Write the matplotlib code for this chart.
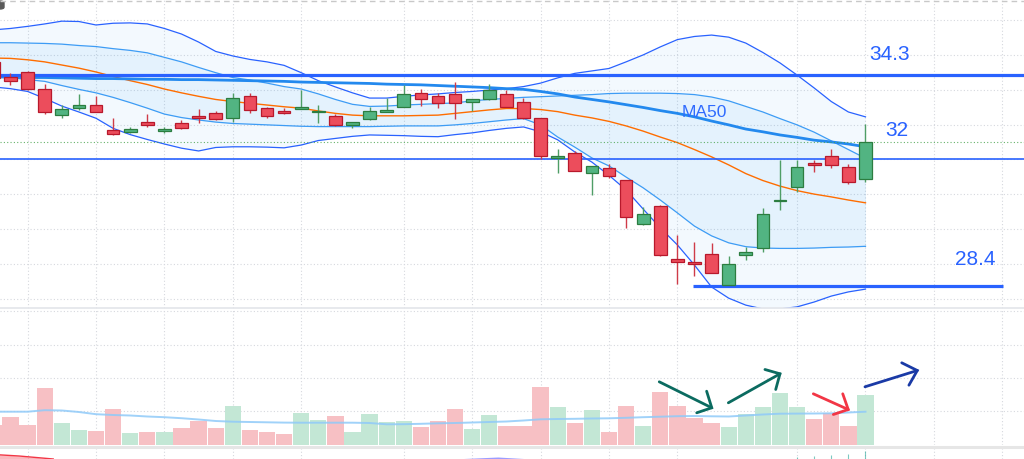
import numpy as np
import matplotlib.pyplot as plt
from matplotlib.lines import Line2D
from matplotlib.patches import FancyBboxPatch

# candle index (-1 is the half-cut candle at the left edge)
idx = np.arange(-1, 51)

opens = [34.80, 34.36, 34.52, 34.03, 33.27, 33.47, 33.56, 32.83, 32.79, 33.08,
         32.82, 33.05, 33.24, 33.33, 33.20, 33.82, 33.47, 33.39, 33.45, 33.36,
         33.24, 32.98, 33.15, 33.37, 33.51, 33.90, 33.81, 33.87, 33.64, 33.72,
         33.87, 33.66, 33.18, 32.05, 32.18, 31.61, 31.74, 31.40, 30.13, 30.66,
         29.13, 29.04, 29.27, 28.39, 29.24, 29.46, 30.79, 31.20, 31.89, 32.09,
         31.77, 31.44]
highs = [34.82, 34.47, 34.54, 34.16, 33.56, 33.87, 33.82, 33.18, 32.94, 33.29,
         32.94, 33.12, 33.44, 33.39, 33.91, 33.91, 33.51, 33.47, 33.99, 33.56,
         33.29, 33.07, 33.51, 33.75, 34.14, 34.01, 33.91, 34.21, 33.74, 34.16,
         33.99, 33.77, 33.19, 32.29, 32.24, 31.81, 31.86, 31.41, 30.64, 30.69,
         29.82, 29.61, 29.60, 29.22, 29.49, 30.61, 31.98, 31.98, 31.98, 32.29,
         31.86, 33.01]
lows = [34.31, 34.14, 34.00, 33.29, 33.18, 33.42, 33.36, 32.71, 32.75, 32.93,
        32.75, 32.88, 33.05, 33.14, 33.08, 33.34, 33.18, 33.29, 33.44, 33.03,
        32.97, 32.89, 33.14, 33.36, 33.50, 33.53, 33.48, 33.15, 33.39, 33.71,
        33.50, 33.17, 32.01, 31.60, 31.65, 30.97, 31.47, 30.03, 30.12, 29.22,
        28.41, 28.66, 28.72, 28.38, 29.11, 29.34, 30.54, 31.07, 31.64, 31.74,
        31.29, 31.36]
closes = [34.33, 34.26, 34.01, 33.35, 33.44, 33.56, 33.37, 32.74, 32.87, 32.98,
          32.85, 32.89, 33.18, 33.17, 33.77, 33.41, 33.24, 33.34, 33.48, 33.39,
          32.98, 33.06, 33.38, 33.43, 33.87, 33.72, 33.63, 33.63, 33.73, 34.00,
          33.51, 33.18, 32.09, 32.10, 31.66, 31.80, 31.52, 30.33, 30.43, 29.25,
          29.05, 28.98, 28.73, 28.99, 29.34, 30.43, 30.82, 31.77, 31.84, 31.84,
          31.35, 32.50]
volumes = [2.00, 2.80, 2.00, 5.73, 2.23, 1.53, 1.43, 3.63, 1.20, 1.27,
           1.33, 1.70, 2.43, 1.70, 3.90, 1.53, 1.30, 1.10, 3.23, 2.53,
           2.90, 1.33, 3.07, 2.30, 2.43, 1.77, 2.40, 3.63, 1.60, 2.97,
           1.87, 1.93, 5.80, 3.80, 2.23, 3.53, 1.27, 3.87, 1.93, 5.33,
           3.87, 2.67, 2.23, 1.77, 3.07, 3.80, 5.17, 3.80, 2.57, 3.17,
           1.93, 5.00]
vol_ma = [3.33, 3.33, 3.33, 3.48, 3.45, 3.30, 3.08, 3.00, 2.95, 2.85,
          2.78, 2.68, 2.55, 2.40, 2.33, 2.30, 2.27, 2.24, 2.23, 2.23,
          2.23, 2.23, 2.20, 2.07, 2.08, 2.12, 2.17, 2.20, 2.25, 2.30,
          2.35, 2.45, 2.57, 2.60, 2.62, 2.65, 2.67, 2.72, 2.78, 2.83,
          2.88, 2.90, 2.87, 2.85, 2.95, 3.05, 3.13, 3.14, 3.15, 3.17,
          3.25, 3.33]

# indicator lines
bb_upper = [35.72, 35.76, 35.82, 35.89, 35.97, 35.96, 35.86, 35.91, 35.92, 35.89,
            35.76, 35.60, 35.37, 35.10, 34.97, 34.87, 34.80, 34.70, 34.49, 34.26,
            34.08, 33.91, 33.76, 33.76, 33.81, 33.85, 33.88, 33.92, 33.95, 33.99,
            34.03, 34.09, 34.19, 34.34, 34.47, 34.54, 34.61, 34.80, 35.00, 35.23,
            35.44, 35.53, 35.57, 35.51, 35.34, 35.07, 34.77, 34.42, 34.05, 33.66,
            33.36, 33.22]
bb_lower = [34.08, 34.03, 33.95, 33.75, 33.53, 33.36, 33.18, 32.89, 32.71, 32.57,
            32.44, 32.32, 32.24, 32.34, 32.36, 32.36, 32.35, 32.33, 32.41, 32.54,
            32.60, 32.66, 32.70, 32.69, 32.68, 32.66, 32.65, 32.71, 32.76, 32.83,
            32.89, 32.93, 32.79, 32.56, 32.21, 31.92, 31.54, 31.12, 30.57, 30.03,
            29.54, 28.96, 28.33, 28.01, 27.81, 27.70, 27.70, 27.76, 27.90, 28.07,
            28.19, 28.27]
bb1_upper = [35.35, 35.35, 35.34, 35.33, 35.31, 35.27, 35.24, 35.18, 35.13, 35.06,
             34.93, 34.80, 34.64, 34.49, 34.35, 34.28, 34.19, 34.09, 34.02, 33.88,
             33.72, 33.58, 33.52, 33.53, 33.56, 33.58, 33.60, 33.62, 33.68, 33.72,
             33.75, 33.78, 33.80, 33.82, 33.84, 33.86, 33.89, 33.90, 33.90, 33.90,
             33.89, 33.86, 33.79, 33.68, 33.52, 33.36, 33.17, 32.99, 32.78, 32.53,
             32.28, 32.03]
bb1_lower = [34.39, 34.35, 34.29, 34.24, 34.12, 34.01, 33.91, 33.78, 33.63, 33.47,
             33.30, 33.20, 33.13, 33.07, 33.03, 33.01, 32.99, 32.97, 32.95, 32.94,
             32.94, 32.94, 32.94, 32.95, 32.96, 32.96, 32.96, 32.99, 33.03, 33.08,
             33.13, 33.17, 32.99, 32.64, 32.35, 32.04, 31.81, 31.49, 31.18, 30.83,
             30.46, 30.08, 29.80, 29.60, 29.49, 29.45, 29.44, 29.44, 29.45, 29.47,
             29.48, 29.50]
ma20 = [34.91, 34.90, 34.86, 34.80, 34.71, 34.62, 34.51, 34.38, 34.26, 34.15,
        34.02, 33.91, 33.81, 33.72, 33.66, 33.61, 33.56, 33.51, 33.47, 33.39,
        33.32, 33.27, 33.25, 33.25, 33.25, 33.26, 33.27, 33.32, 33.37, 33.42,
        33.46, 33.46, 33.43, 33.37, 33.27, 33.19, 33.09, 32.96, 32.81, 32.64,
        32.48, 32.28, 32.07, 31.84, 31.59, 31.39, 31.23, 31.10, 31.00, 30.92,
        30.83, 30.75]
ma50 = [34.37, 34.36, 34.35, 34.35, 34.34, 34.33, 34.32, 34.32, 34.31, 34.30,
        34.30, 34.29, 34.29, 34.28, 34.27, 34.26, 34.25, 34.24, 34.22, 34.21,
        34.20, 34.19, 34.18, 34.16, 34.15, 34.14, 34.12, 34.10, 34.08, 34.06,
        34.03, 34.01, 33.95, 33.88, 33.79, 33.72, 33.65, 33.57, 33.49, 33.40,
        33.32, 33.22, 33.10, 32.99, 32.87, 32.79, 32.70, 32.63, 32.55, 32.50,
        32.44, 32.36]

# drawn levels and their labels
levels = [34.42, 32.00, 28.37]
level_labels = ['34.3', '32', '28.4']
level_from = [-1.0, -1.0, 39.9]
level_to = [61.0, 61.0, 58.05]
label_pos = [(51.43, 35.00), (51.81, 32.84), (56.40, 29.12)]

# hand drawn arrows on the volume pane: shaft start, tip, two head ends
arrows = [
    ((37.94, 6.32), (41.01, 3.72), (40.13, 3.22), (40.71, 5.38), '#0b6b60'),
    ((41.98, 4.22), (45.00, 7.12), (44.12, 7.55), (44.75, 5.55), '#0b6b60'),
    ((46.95, 5.12), (48.99, 3.55), (48.67, 5.12), (48.12, 3.05), '#f23645'),
    ((49.97, 5.82), (53.03, 7.45), (52.12, 8.22), (52.54, 5.98), '#1a3aa6'),
]

# lower oscillator pane (only a few marks visible)
osc_idx = [46, 47, 48, 49, 50]
osc_vals = [2.0, 3.0, 4.5, 5.0, 8.5]

grid_x = [1, 5, 9, 13, 17, 23, 27, 31, 35, 39, 46, 50, 54, 58]
grid_price = [28, 29, 30, 31, 32, 33, 34, 35, 36]
grid_vol = [3.37, 6.70, 10.03, 13.36]

RED, RED_EDGE, RED_WICK = '#ec4d5c', '#b8192c', '#cf3b48'
GRN, GRN_EDGE, GRN_WICK = '#52b482', '#2c7d40', '#4f9e66'
BLUE = '#2962ff'

xmin, xmax = -0.614, 59.27
W, H = 1024, 459

fig = plt.figure(figsize=(W / 100, H / 100), dpi=100)
ax = fig.add_axes([0, (H - 307.5) / H, 1, 307.5 / H])
axv = fig.add_axes([0, (H - 445) / H, 1, 137.5 / H])
axo = fig.add_axes([0, 0, 1, 11.5 / H])

for a in (ax, axv, axo):
    a.set_xlim(xmin, xmax)
    a.set_axis_off()
    for gx in grid_x:
        a.axvline(gx, color='#d6d8de', lw=0.8, ls=(0, (1, 2)), zorder=0)

ax.set_ylim(36.578 - 307.5 / 34.8, 36.578)
axv.set_ylim(0, 13.75)
axo.set_ylim(0, 11.5)

for gy in grid_price:
    ax.axhline(gy, color='#d6d8de', lw=0.8, ls=(0, (1, 2)), zorder=0)
for gy in grid_vol:
    axv.axhline(gy, color='#d6d8de', lw=0.8, ls=(0, (1, 2)), zorder=0)

# bands
ax.fill_between(idx, bb_lower, bb_upper, color='#2196f3', alpha=0.05, lw=0, zorder=1)
ax.fill_between(idx, bb1_lower, bb1_upper, color='#2196f3', alpha=0.07, lw=0, zorder=1)
ax.plot(idx, bb_upper, color=BLUE, lw=0.9, zorder=2)
ax.plot(idx, bb_lower, color=BLUE, lw=0.9, zorder=2)
ax.plot(idx, bb1_upper, color='#3d9cf5', lw=0.9, zorder=2)
ax.plot(idx, bb1_lower, color='#3d9cf5', lw=0.9, zorder=2)
ax.plot(idx, ma20, color='#ff6d00', lw=1.0, zorder=2)
ax.plot(idx, ma50, color='#2389ee', lw=2.0, zorder=2)

# levels
for lv, x0, x1 in zip(levels, level_from, level_to):
    ax.hlines(lv, x0, x1, color=BLUE, lw=2.3 if lv != 32.0 else 1.2, zorder=3)
for txt, (tx, ty) in zip(level_labels, label_pos):
    ax.text(tx, ty, txt, color=BLUE, fontsize=15, family='Liberation Sans',
            ha='center', va='center', zorder=6)
ax.text(40.55, 33.35, 'MA50', color='#2f6bff', fontsize=12.5,
        family='Liberation Sans', ha='center', va='center', zorder=6)
ax.axhline(closes[-1], color='#43a047', lw=0.8, ls=(0, (1, 2)), alpha=0.8, zorder=2)

# candles
o = np.array(opens)
c = np.array(closes)
up = c >= o
body_lo = np.minimum(o, c)
body_h = np.maximum(np.abs(c - o), 0.04)
ax.vlines(idx[up], np.array(lows)[up], np.array(highs)[up], color=GRN_WICK, lw=1.0, zorder=4)
ax.vlines(idx[~up], np.array(lows)[~up], np.array(highs)[~up], color=RED_WICK, lw=1.0, zorder=4)
ax.bar(idx[up], body_h[up], bottom=body_lo[up], width=0.74, color=GRN,
       edgecolor=GRN_EDGE, linewidth=0.9, zorder=5)
ax.bar(idx[~up], body_h[~up], bottom=body_lo[~up], width=0.74, color=RED,
       edgecolor=RED_EDGE, linewidth=0.9, zorder=5)

# volume
vcol = np.where(up, '#c3e7d5', '#f7c0c4')
axv.bar(idx, volumes, width=0.95, color=vcol, zorder=2)
axv.plot(idx, vol_ma, color='#90caf9', lw=1.4, alpha=0.85, zorder=3)

for start, tip, h1, h2, col in arrows:
    axv.plot([start[0], tip[0]], [start[1], tip[1]], color=col, lw=2.0,
             solid_capstyle='round', zorder=6)
    axv.plot([h1[0], tip[0], h2[0]], [h1[1], tip[1], h2[1]], color=col, lw=2.0,
             solid_capstyle='round', solid_joinstyle='miter', zorder=6)

# oscillator pane bits
axo.vlines(osc_idx, 0, osc_vals, color='#26a69a', lw=0.8, alpha=0.6)
axo.fill_between([-1, 0.5, 2.5], [4.5, 3.0, 0], 0, color='#f23645', alpha=0.35, lw=0)
axo.plot([-1, 0.5, 2.5], [4.5, 3.0, 0], color='#f23645', lw=1.0)
axo.fill_between([26.5, 28.5, 30.0], [0.5, 2.0, 0.5], 0, color='#5b5bff', alpha=0.6, lw=0)

# pane separators and top edge
fig.add_artist(Line2D([0, 1], [(H - 307.5) / H] * 2, color='#e3e5ea', lw=1.2))
fig.add_artist(Line2D([0, 1], [(H - 446.5) / H] * 2, color='#e6e6e6', lw=2.2))
fig.add_artist(Line2D([0, 1], [(H - 1) / H] * 2, color='#c8c8c8', lw=1.0, ls=(0, (4, 3))))
fig.add_artist(FancyBboxPatch((-6 / W, (H - 9) / H), 10 / W, 8 / H,
                              boxstyle='round,pad=0,rounding_size=0.004',
                              transform=fig.transFigure, color='#5a5a5a'))

plt.savefig('out.png', dpi=100)
